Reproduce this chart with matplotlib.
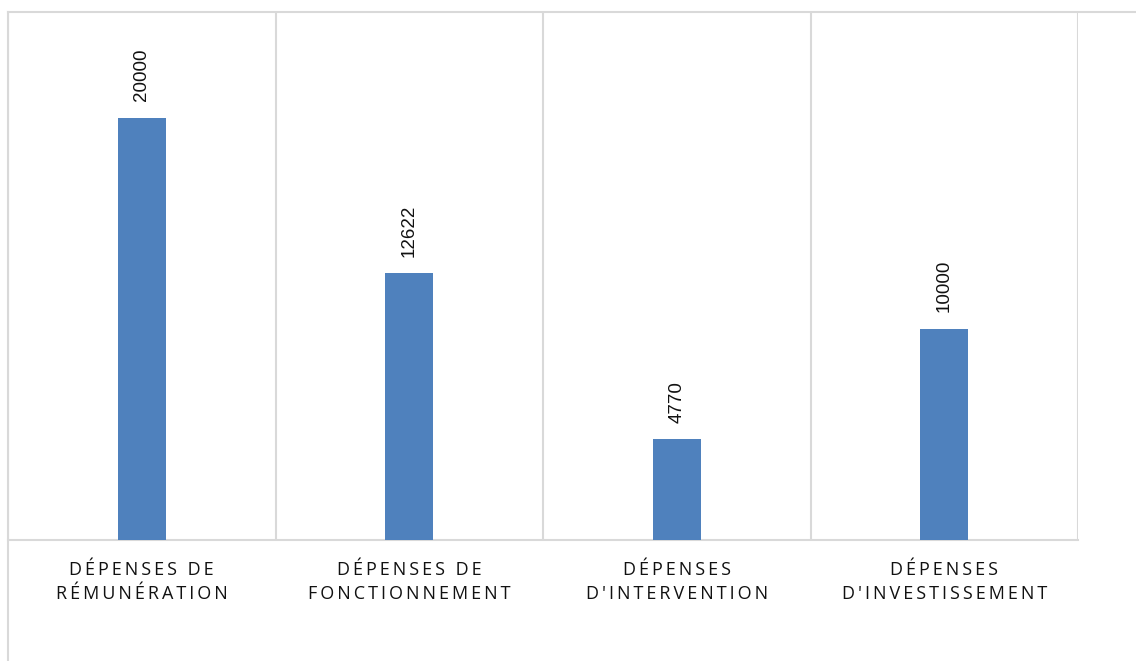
import matplotlib
matplotlib.use("Agg")
import matplotlib.pyplot as plt
from matplotlib.lines import Line2D

categories = [
    "DÉPENSES DE\nRÉMUNÉRATION",
    "DÉPENSES DE\nFONCTIONNEMENT",
    "DÉPENSES\nD'INTERVENTION",
    "DÉPENSES\nD'INVESTISSEMENT",
]
values = [20000, 12622, 4770, 10000]

BAR_COLOR = "#4f81bd"
GRID_COLOR = "#d9d9d9"


def spaced(label, sep="\u2009"):
    """Fake Excel's wide letter spacing by putting thin spaces between letters."""
    lines = []
    for line in label.split("\n"):
        lines.append(sep.join(line))
    return "\n".join(lines)


W, H = 1136, 661
fig = plt.figure(figsize=(W / 100, H / 100), dpi=100)
ax = fig.add_axes([8 / W, (H - 540) / H, (1078 - 8) / W, (540 - 12) / H])

x = list(range(len(values)))
ax.bar(x, values, width=0.18, color=BAR_COLOR, zorder=3)

ax.set_xlim(-0.5, len(values) - 0.5)
ax.set_ylim(0, 25000)

# category separators
for b in [i - 0.5 for i in range(len(values) + 1)]:
    ax.axvline(b, color=GRID_COLOR, lw=1.5, zorder=1)

for s in ["top", "left", "right"]:
    ax.spines[s].set_visible(False)
ax.spines["bottom"].set_color(GRID_COLOR)
ax.spines["bottom"].set_linewidth(1.5)
ax.set_yticks([])
ax.set_xticks(x)
ax.set_xticklabels([spaced(c) for c in categories],
                   family=["Open Sans", "DejaVu Sans"],
                   fontsize=13, color="#111111", linespacing=1.45)
ax.tick_params(axis="x", length=0, pad=15)

for xi, v in zip(x, values):
    ax.annotate(str(v), (xi, v), xytext=(0, 12), textcoords="offset points",
                rotation=90, ha="center", va="bottom", fontsize=13.5,
                family="Liberation Sans", color="#111111")

# outer chart border (cropped): top edge and left edge
fig.add_artist(Line2D([8 / W, 1.0], [(H - 12) / H] * 2, transform=fig.transFigure,
                      color=GRID_COLOR, lw=1.5))
fig.add_artist(Line2D([8 / W] * 2, [0, (H - 12) / H], transform=fig.transFigure,
                      color=GRID_COLOR, lw=1.5))

fig.savefig("out.png", dpi=100)
